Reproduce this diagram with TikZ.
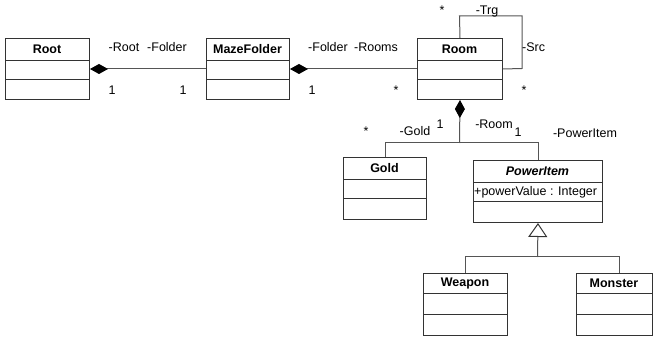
\documentclass[tikz,border=0pt]{standalone}
\usepackage{fontspec}
\setmainfont{Liberation Sans}
\usetikzlibrary{arrows.meta}
\definecolor{boxline}{HTML}{333333}
\definecolor{connline}{HTML}{555555}
\tikzset{
  classbox/.style={draw=boxline, line width=1pt, rectangle, inner sep=0pt, anchor=north west},
  sepline/.style={draw=boxline, line width=1pt},
  classtitle/.style={font=\fontsize{12.5}{14}\selectfont\bfseries, inner sep=0pt},
  attr/.style={font=\fontsize{12.5}{14}\selectfont, inner sep=0pt, anchor=base west},
  lbl/.style={font=\fontsize{12.5}{14}\selectfont, inner sep=0pt, anchor=base},
  conn/.style={draw=connline, line width=1pt},
  compo/.style={conn, {Diamond[length=18pt,width=10pt,color=black]}-},
  gener/.style={conn, {Triangle[open,length=14pt,width=19pt,fill=white,color=boxline]}-},
}
\newcommand{\umlcls}[8]{%
  \node[classbox, minimum width={#4-#2}, minimum height={#7-#3}] (#1) at (#2,#3) {};
  \draw[sepline] (#2,#5) -- (#4,#5);
  \draw[sepline] (#2,#6) -- (#4,#6);
  \node[classtitle] (#1-title) at ({(#2+#4)/2},{(#3+#5)/2}) {#8};
}
\begin{document}
\begin{tikzpicture}[x=1pt,y=-1pt]
\useasboundingbox (0,0) rectangle (654,339);
\fill[white] (0,0) rectangle (654,339);

\umlcls{root}{5}{38}{89}{61}{80}{99}{Root}
\umlcls{maze}{206}{38}{289}{61}{80}{99}{MazeFolder}
\umlcls{room}{417}{38}{502}{61}{80}{99}{Room}
\umlcls{gold}{343}{157}{426}{180}{199}{219}{Gold}
\umlcls{pitem}{473}{160}{602}{183}{202}{222}{\itshape PowerItem}
\umlcls{weapon}{423}{273}{507}{294}{315}{335}{Weapon}
\umlcls{monster}{576}{273}{652}{294}{315}{335}{Monster}
\node[attr] (pattr) at (474,196) {+powerValue : Integer};

% Root -- MazeFolder
\draw[compo] (root.east) -- (maze.west);
\node[lbl] (l-root) at (124,52) {-Root};
\node[lbl] (l-folder1) at (167,52) {-Folder};
\node[lbl] (m-root) at (112,95) {1};
\node[lbl] (m-folder1) at (183,95) {1};

% MazeFolder -- Room
\draw[compo] (maze.east) -- (room.west);
\node[lbl] (l-folder2) at (328,52) {-Folder};
\node[lbl] (l-rooms) at (376,52) {-Rooms};
\node[lbl] (m-folder2) at (312,95) {1};
\node[lbl] (m-rooms) at (396,95) {*};

% Room self loop
\coordinate (loop1) at (459.5,16);
\coordinate (loop2) at (522,16);
\coordinate (loop3) at (522,68.5);
\draw[conn] (room.north) -- (loop1) -- (loop2) -- (loop3) -- (room.east);
\node[lbl] (m-trg) at (442,15) {*};
\node[lbl] (l-trg) at (487,15) {-Trg};
\node[lbl, anchor=base west] (l-src) at (522,52) {-Src};
\node[lbl] (m-src) at (524,95) {*};

% Room -- Gold / PowerItem
\coordinate (cj) at (459.5,143);
\draw[compo] (room.south) -- (cj);
\draw[conn] (cj) -| (gold.north);
\draw[conn] (cj) -| (pitem.north);
\node[lbl] (m-gold) at (366,136) {*};
\node[lbl] (l-gold) at (415,136) {-Gold};
\node[lbl] (m-room1) at (440,129) {1};
\node[lbl] (l-room) at (494,129) {-Room};
\node[lbl] (m-room2) at (518,137) {1};
\node[lbl] (l-pitem) at (585,138) {-PowerItem};

% Generalization
\coordinate (gj) at (537.5,257);
\coordinate (gm) at (619,257);
\draw[gener] (pitem.south) -- (gj);
\draw[conn] (gj) -| (weapon.north);
\draw[conn] (gj) -- (gm) -- (gm |- monster.north);
\end{tikzpicture}
\end{document}
